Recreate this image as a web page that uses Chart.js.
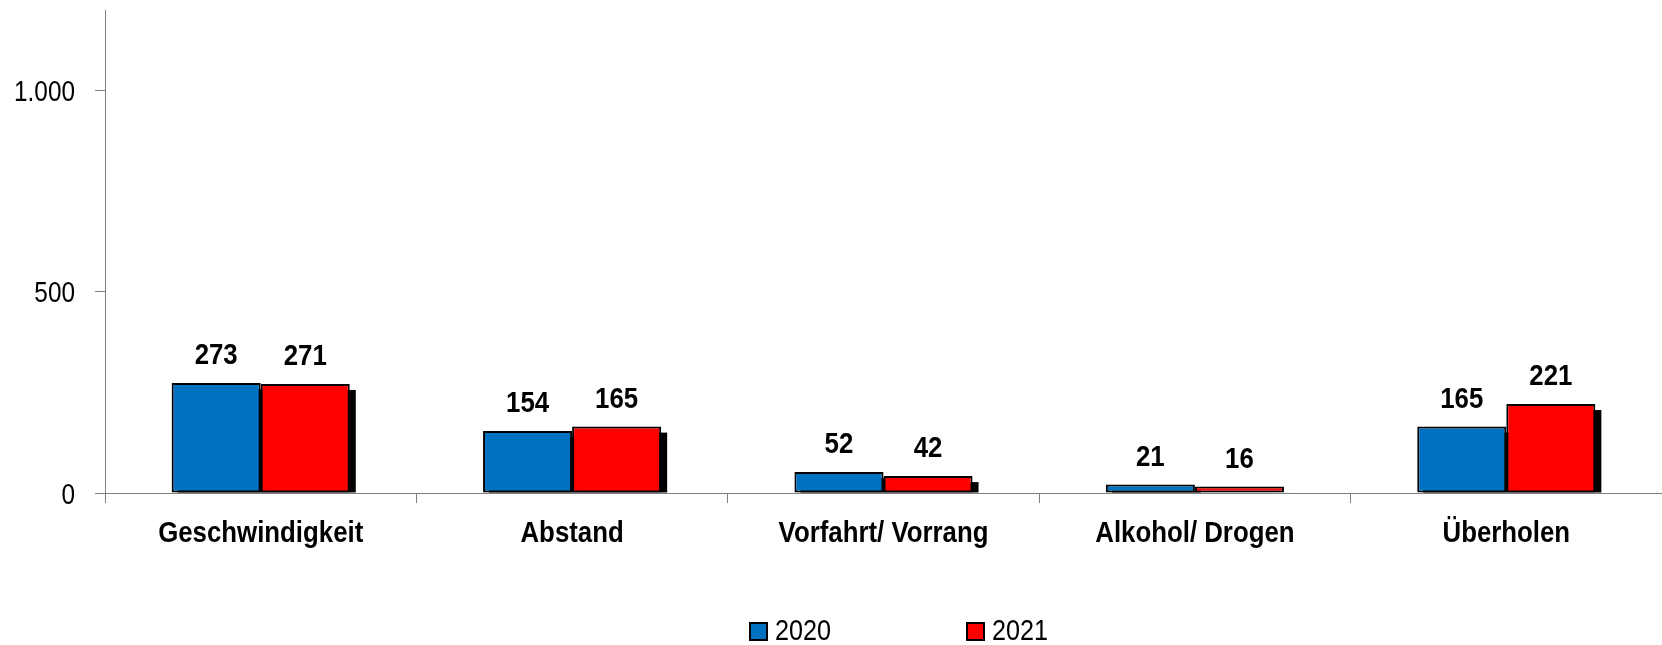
<!DOCTYPE html>
<html>
<head>
<meta charset="utf-8">
<script src="https://cdn.jsdelivr.net/npm/chart.js@4/dist/chart.umd.min.js"></script>
<style>
  html, body { margin: 0; padding: 0; background: #ffffff; }
  #wrap { width: 1662px; height: 645px; position: relative; }
</style>
</head>
<body>
<div id="wrap"><canvas id="c" width="1662" height="645"></canvas></div>
<script>
const categories = ["Geschwindigkeit", "Abstand", "Vorfahrt/ Vorrang", "Alkohol/ Drogen", "Überholen"];
const seriesNames = ["2020", "2021"];
const values2020 = [273, 154, 52, 21, 165];
const values2021 = [271, 165, 42, 16, 221];
const yTicks = [0, 500, 1000];

const FONT = "'Liberation Sans', Arial, sans-serif";
const BLUE = '#0070C0';
const RED = '#FF0000';
const SQUEEZE_REG = 0.84;
const SQUEEZE_BOLD = 0.89;

function narrowText(ctx, text, x, y, align, squeeze) {
  ctx.save();
  ctx.translate(x, y);
  ctx.scale(squeeze, 1);
  ctx.textAlign = align;
  ctx.fillText(text, 0, 0);
  ctx.restore();
}

// black drop shadow behind each bar, from the bar elements' own geometry
const shadowPlugin = {
  id: 'barShadow',
  beforeDatasetsDraw(chart) {
    const ctx = chart.ctx;
    const area = chart.chartArea;
    ctx.save();
    ctx.beginPath();
    ctx.rect(area.left, area.top, area.right - area.left, area.bottom - area.top);
    ctx.clip();
    ctx.fillStyle = '#000000';
    chart.data.datasets.forEach((ds, di) => {
      chart.getDatasetMeta(di).data.forEach((bar) => {
        const left = bar.x - bar.width / 2 + 6;
        const top = bar.y + 6;
        ctx.fillRect(left, top, bar.width, bar.base - top);
      });
    });
    ctx.restore();
  }
};

// axis tick labels (condensed look) positioned via the library scales
const axisLabels = {
  id: 'axisLabels',
  afterDraw(chart) {
    const ctx = chart.ctx;
    const xs = chart.scales.x, ys = chart.scales.y;
    ctx.save();
    ctx.fillStyle = '#000000';
    ctx.textBaseline = 'alphabetic';
    ctx.font = "29px " + FONT;
    yTicks.forEach((v) => {
      const py = ys.getPixelForValue(v);
      narrowText(ctx, v.toLocaleString('de-DE'), ys.right - 10 - 20, py + 10.5, 'right', SQUEEZE_REG);
    });
    ctx.font = "bold 29px " + FONT;
    categories.forEach((c, i) => {
      const px = xs.getPixelForTick(i);
      narrowText(ctx, c, px, xs.top + 49, 'center', SQUEEZE_BOLD);
    });
    ctx.restore();
  }
};

const valueLabels = {
  id: 'valueLabels',
  afterDatasetsDraw(chart) {
    const ctx = chart.ctx;
    ctx.save();
    ctx.font = "bold 29px " + FONT;
    ctx.fillStyle = '#000000';
    ctx.textBaseline = 'alphabetic';
    chart.data.datasets.forEach((ds, di) => {
      const meta = chart.getDatasetMeta(di);
      meta.data.forEach((bar, i) => {
        narrowText(ctx, String(ds.data[i]), bar.x, bar.y - 19, 'center', SQUEEZE_BOLD);
      });
    });
    ctx.restore();
  }
};

const customLegend = {
  id: 'customLegend',
  afterDraw(chart) {
    const ctx = chart.ctx;
    ctx.save();
    ctx.font = "30px " + FONT;
    ctx.textBaseline = 'alphabetic';
    const xs = [750, 967];
    chart.data.datasets.forEach((ds, i) => {
      const x = xs[i];
      ctx.fillStyle = ds.backgroundColor;
      ctx.fillRect(x, 623, 17, 17);
      ctx.strokeStyle = '#000000';
      ctx.lineWidth = 2;
      ctx.strokeRect(x, 623, 17, 17);
      ctx.fillStyle = '#000000';
      narrowText(ctx, ds.label, x + 25, 640, 'left', SQUEEZE_REG);
    });
    ctx.restore();
  }
};

new Chart(document.getElementById('c'), {
  type: 'bar',
  data: {
    labels: categories,
    datasets: [
      { label: seriesNames[0], data: values2020, backgroundColor: BLUE, borderColor: '#000000', borderWidth: 2, borderSkipped: false },
      { label: seriesNames[1], data: values2021, backgroundColor: RED, borderColor: '#000000', borderWidth: 2, borderSkipped: false }
    ]
  },
  options: {
    responsive: false,
    animation: false,
    devicePixelRatio: 1,
    layout: { padding: { top: 10, right: 0, left: 0, bottom: 0 } },
    datasets: { bar: { categoryPercentage: 0.572, barPercentage: 1.0 } },
    plugins: {
      legend: { display: false },
      tooltip: { enabled: false }
    },
    scales: {
      x: {
        grid: { display: true, drawOnChartArea: false, offset: true, tickLength: 10, color: '#808080', lineWidth: 1 },
        border: { display: true, color: '#808080', width: 1 },
        ticks: { display: false, autoSkip: false },
        afterFit(scale) { scale.height = 152; }
      },
      y: {
        min: 0,
        max: 1200,
        afterBuildTicks(scale) { scale.ticks = yTicks.map(v => ({ value: v })); },
        grid: { display: true, drawOnChartArea: false, tickLength: 10, color: '#808080', lineWidth: 1 },
        border: { display: true, color: '#808080', width: 1 },
        ticks: { display: false },
        afterFit(scale) { scale.width = 105; }
      }
    }
  },
  plugins: [shadowPlugin, axisLabels, valueLabels, customLegend]
});
</script>
</body>
</html>
